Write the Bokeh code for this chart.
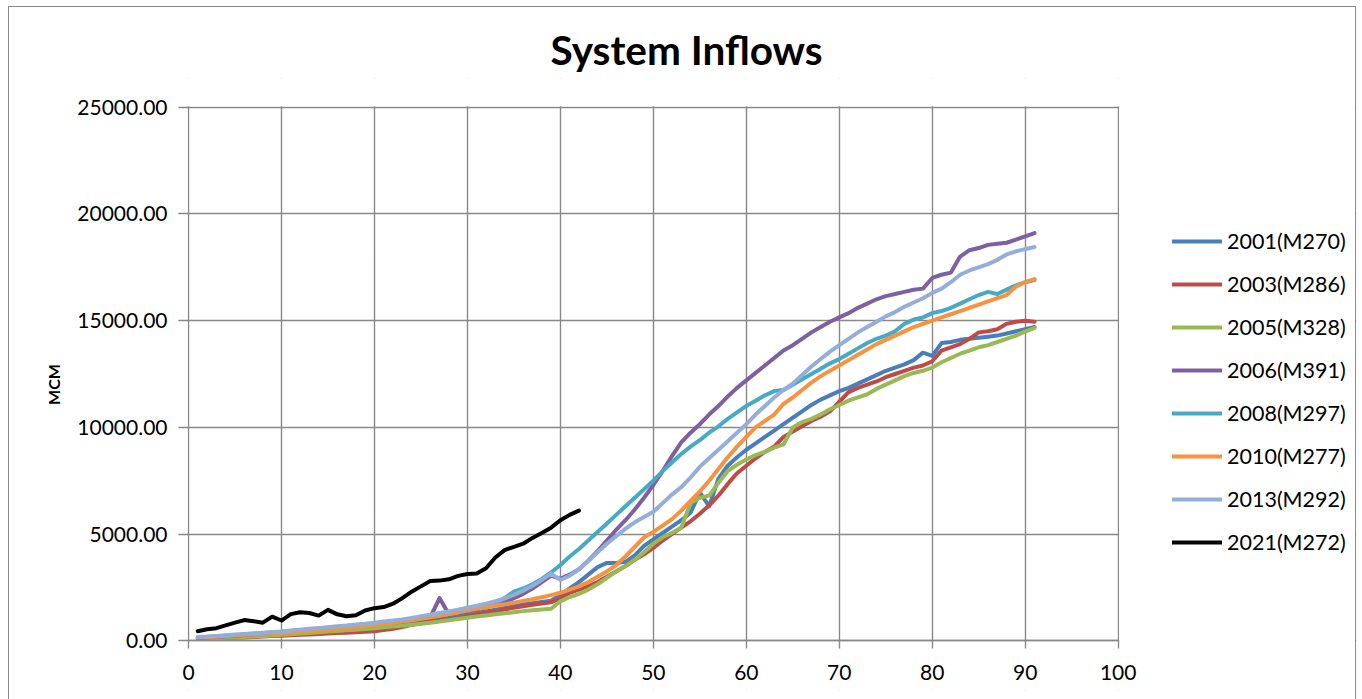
from bokeh.plotting import figure
from bokeh.models import (Range1d, SingleIntervalTicker, NumeralTickFormatter, Legend,
                          LegendItem, InlineStyleSheet, BoxAnnotation)
from bokeh.embed import file_html
from bokeh.resources import INLINE

# ---------------- data ----------------
days = list(range(1, 92))
days_2021 = list(range(1, 43))

labels = ["2001(M270)", "2003(M286)", "2005(M328)", "2006(M391)",
          "2008(M297)", "2010(M277)", "2013(M292)", "2021(M272)"]
colors = ["#4A7EBB", "#BE4B48", "#98B954", "#7D60A0",
          "#46AAC5", "#F69240", "#94AEDA", "#000000"]

y2001 = [140, 160, 180, 200, 220, 250, 280, 310, 340, 370,
         400, 430, 460, 490, 520, 560, 600, 640, 680, 720,
         760, 800, 840, 880, 930, 980, 1030, 1090, 1150, 1220,
         1300, 1380, 1460, 1540, 1620, 1700, 1760, 1820, 1880, 2150,
         2450, 2750, 3100, 3450, 3650, 3650, 3700, 4000, 4450, 4750,
         5050, 5350, 5650, 6000, 6950, 6300, 7600, 8200, 8600, 8950,
         9250, 9550, 9850, 10150, 10450, 10750, 11050, 11300, 11500, 11700,
         11850, 12050, 12250, 12450, 12650, 12800, 12950, 13150, 13500, 13350,
         13950, 14000, 14100, 14150, 14200, 14250, 14300, 14400, 14500, 14600, 14700]

y2003 = [100, 110, 120, 130, 140, 160, 180, 200, 220, 240,
         260, 280, 300, 320, 340, 360, 380, 400, 420, 450,
         500, 560, 650, 750, 820, 880, 940, 1000, 1070, 1150,
         1230, 1310, 1390, 1470, 1550, 1620, 1690, 1750, 1800, 2000,
         2250, 2400, 2550, 2750, 3000, 3250, 3500, 3800, 4050, 4350,
         4700, 5000, 5300, 5600, 5950, 6350, 6800, 7350, 7850, 8200,
         8550, 8850, 9100, 9550, 9800, 10050, 10300, 10500, 10750, 11200,
         11650, 11850, 12000, 12150, 12350, 12500, 12650, 12800, 12900, 13100,
         13600, 13750, 13900, 14150, 14450, 14500, 14600, 14850, 14950, 15000, 14950]

y2005 = [80, 100, 120, 140, 160, 180, 200, 220, 250, 280,
         310, 340, 370, 400, 430, 460, 490, 520, 550, 590,
         630, 670, 710, 750, 800, 850, 900, 960, 1020, 1080,
         1140, 1190, 1240, 1290, 1340, 1390, 1430, 1470, 1500, 1850,
         2050, 2200, 2400, 2650, 2950, 3250, 3500, 3800, 4150, 4550,
         4850, 5050, 5300, 6450, 6700, 6800, 7400, 7950, 8250, 8500,
         8700, 8850, 9050, 9200, 10000, 10250, 10400, 10600, 10850, 11050,
         11250, 11400, 11550, 11800, 12000, 12200, 12400, 12550, 12650, 12800,
         13050, 13250, 13450, 13600, 13750, 13850, 14000, 14150, 14300, 14500, 14650]

y2006 = [120, 150, 180, 210, 240, 270, 300, 330, 360, 390,
         420, 460, 500, 540, 580, 620, 660, 700, 740, 780,
         830, 880, 930, 980, 1040, 1100, 2000, 1240, 1320, 1400,
         1480, 1570, 1680, 1820, 2000, 2200, 2450, 2750, 3050, 2900,
         3100, 3350, 3750, 4200, 4700, 5200, 5650, 6150, 6700, 7300,
         7950, 8650, 9300, 9750, 10150, 10600, 11000, 11450, 11850, 12200,
         12550, 12900, 13250, 13600, 13850, 14150, 14450, 14700, 14950, 15150,
         15350, 15600, 15800, 16000, 16150, 16250, 16350, 16450, 16500, 17000,
         17150, 17250, 18000, 18300, 18400, 18550, 18600, 18650, 18800, 18950, 19100]

y2008 = [150, 180, 210, 240, 270, 300, 330, 360, 390, 420,
         460, 500, 540, 570, 610, 650, 690, 730, 770, 810,
         860, 910, 960, 1010, 1060, 1120, 1180, 1250, 1330, 1420,
         1520, 1630, 1780, 2000, 2300, 2450, 2650, 2900, 3200, 3550,
         3950, 4300, 4700, 5100, 5500, 5900, 6300, 6700, 7100, 7500,
         7950, 8350, 8750, 9100, 9400, 9750, 10050, 10400, 10700, 11000,
         11250, 11500, 11700, 11750, 12000, 12250, 12500, 12750, 13000, 13200,
         13450, 13700, 13950, 14150, 14300, 14500, 14850, 15050, 15150, 15350,
         15450, 15600, 15800, 16000, 16200, 16350, 16250, 16450, 16650, 16800, 16900]

y2010 = [150, 170, 190, 220, 250, 280, 300, 320, 340, 360,
         390, 420, 450, 490, 530, 570, 610, 650, 700, 750,
         800, 850, 900, 960, 1030, 1100, 1170, 1250, 1340, 1430,
         1500, 1570, 1640, 1710, 1790, 1870, 1950, 2040, 2140, 2250,
         2400, 2550, 2750, 3000, 3250, 3550, 3950, 4400, 4850, 5100,
         5400, 5700, 6100, 6550, 7000, 7500, 8050, 8600, 9100, 9550,
         10000, 10300, 10600, 11100, 11400, 11750, 12100, 12400, 12650, 12900,
         13150, 13400, 13650, 13900, 14100, 14300, 14500, 14700, 14850, 15000,
         15150, 15300, 15450, 15600, 15750, 15900, 16050, 16200, 16600, 16800, 16950]

y2013 = [180, 200, 230, 260, 290, 320, 350, 380, 410, 440,
         480, 520, 560, 600, 640, 680, 720, 760, 800, 850,
         900, 950, 1000, 1070, 1150, 1220, 1300, 1380, 1460, 1550,
         1640, 1740, 1850, 1980, 2150, 2350, 2580, 2850, 3150, 2850,
         3050, 3350, 3750, 4150, 4550, 4900, 5250, 5550, 5800, 6050,
         6450, 6850, 7200, 7650, 8150, 8550, 8950, 9350, 9750, 10150,
         10600, 11000, 11400, 11750, 12050, 12450, 12850, 13200, 13550, 13850,
         14150, 14450, 14700, 14950, 15200, 15400, 15650, 15850, 16050, 16300,
         16500, 16800, 17150, 17350, 17500, 17650, 17850, 18100, 18250, 18350, 18450]

y2021 = [450, 540, 590, 720, 850, 970, 920, 850, 1130, 950,
         1250, 1340, 1300, 1180, 1450, 1240, 1150, 1200, 1420, 1530,
         1580, 1740, 2000, 2300, 2550, 2800, 2820, 2880, 3040, 3130,
         3150, 3400, 3900, 4250, 4400, 4550, 4820, 5050, 5300, 5650,
         5900, 6100]

x_axis_max = 100
y_axis_max = 25000
x_ticks_interval = 10
y_ticks_interval = 5000

series = [(days, y2001), (days, y2003), (days, y2005), (days, y2006),
          (days, y2008), (days, y2010), (days, y2013), (days_2021, y2021)]

# ---------------- layout geometry ----------------
W, H = 1362, 699
LEFT, RIGHT, TOP, BOTTOM = 178, 6, 78, 9
FRAME_W = W - LEFT - RIGHT
FRAME_H = H - TOP - BOTTOM
X0_PX, X100_PX = 188.0, 1117.7        # plot area of the reference (canvas px)
Y0_PX, Y25K_PX = 640.3, 106.7
PX_PER_X = (X100_PX - X0_PX) / x_axis_max
PX_PER_Y = (Y0_PX - Y25K_PX) / y_axis_max
X_START = -(X0_PX - LEFT) / PX_PER_X
X_END = X_START + FRAME_W / PX_PER_X             # frame extended right for the legend
Y_START = -((H - BOTTOM) - Y0_PX) / PX_PER_Y     # frame extended down (axis at y=0)
Y_END = y_axis_max + (Y25K_PX - TOP) / PX_PER_Y  # frame extended up

GRID = "#888888"
FONT = "Lato"

border_css = InlineStyleSheet(css="""
:host { position: relative; }
:host::after {
  content: "";
  position: absolute;
  left: 8px; top: 6px;
  width: 1348px; height: 760px;
  border: 1px solid #8a8a8a;
  pointer-events: none;
  box-sizing: border-box;
}
""")

p = figure(width=W, height=H, x_range=Range1d(X_START, X_END), y_range=Range1d(Y_START, Y_END),
           output_backend="svg", toolbar_location=None,
           min_border_left=LEFT, min_border_right=RIGHT,
           min_border_top=TOP, min_border_bottom=BOTTOM)
p.stylesheets = [border_css]
p.outline_line_color = None
p.background_fill_color = "white"
p.border_fill_color = "white"

p.title.text = "System Inflows"
p.title.align = "left"
p.title.offset = 372
p.title.vertical_align = "bottom"
p.title.standoff = 10
p.title.text_font = FONT
p.title.text_font_style = "bold"
p.title.text_font_size = "40.5px"
p.title.text_color = "#000000"

p.xaxis.ticker = SingleIntervalTicker(interval=x_ticks_interval, num_minor_ticks=0)
p.yaxis.ticker = SingleIntervalTicker(interval=y_ticks_interval, num_minor_ticks=0)
p.yaxis.formatter = NumeralTickFormatter(format="0.00")
p.xaxis.bounds = (0, x_axis_max)
p.yaxis.bounds = (0, y_axis_max)
p.xaxis.fixed_location = 0

for ax in (p.xaxis[0], p.yaxis[0]):
    ax.axis_line_color = GRID
    ax.axis_line_width = 1.4
    ax.major_tick_line_color = GRID
    ax.major_tick_line_width = 1.4
    ax.minor_tick_line_color = None
    ax.major_label_text_font = FONT
    ax.major_label_text_font_size = "21px"
    ax.major_label_text_color = "#000000"

# x axis sits at y=0 inside the frame
p.xaxis.major_tick_in = 0
p.xaxis.major_tick_out = 8
p.xaxis.major_label_standoff = 16

# y axis panel sits 10px left of x=0; the x=0 grid line acts as the axis line
p.yaxis.axis_line_color = None
p.yaxis.major_tick_in = 10
p.yaxis.major_tick_out = 0
p.yaxis.major_label_standoff = 11
p.yaxis.axis_label = "MCM"
p.yaxis.axis_label_text_font = FONT
p.yaxis.axis_label_text_font_style = "bold"
p.yaxis.axis_label_text_font_size = "16px"
p.yaxis.axis_label_text_color = "#000000"
p.yaxis.axis_label_standoff = 11

p.xgrid.grid_line_color = GRID
p.xgrid.grid_line_width = 1.4
p.ygrid.grid_line_color = GRID
p.ygrid.grid_line_width = 1.4

# white masks hide the grid outside the 0..100 x 0..25000 plot area
mask_kw = dict(fill_color="white", fill_alpha=1, line_color=None, level="underlay")
mask_right = BoxAnnotation(left=x_axis_max + 0.1, right=X_END, bottom=Y_START, top=Y_END, **mask_kw)
mask_left = BoxAnnotation(left=X_START, right=-0.1, bottom=Y_START, top=Y_END, **mask_kw)
mask_top = BoxAnnotation(left=X_START, right=X_END, bottom=y_axis_max + 40, top=Y_END, **mask_kw)
mask_bottom = BoxAnnotation(left=X_START, right=X_END, bottom=Y_START, top=-40, **mask_kw)
for m in (mask_right, mask_left, mask_top, mask_bottom):
    p.add_layout(m)

items = []
for (xs, ys), lab, col in zip(series, labels, colors):
    r = p.line(xs, ys, line_color=col, line_width=4, line_join="round", line_cap="round")
    items.append(LegendItem(label=lab, renderers=[r]))

legend = Legend(items=items, location=(994, 135), glyph_width=50, glyph_height=24,
                label_height=24, spacing=17, label_standoff=5, padding=0, margin=0,
                border_line_color=None, background_fill_alpha=0,
                label_text_font=FONT, label_text_font_size="21.5px",
                label_text_color="#000000")
p.add_layout(legend)

open("out.html", "w").write(file_html(p, INLINE))
